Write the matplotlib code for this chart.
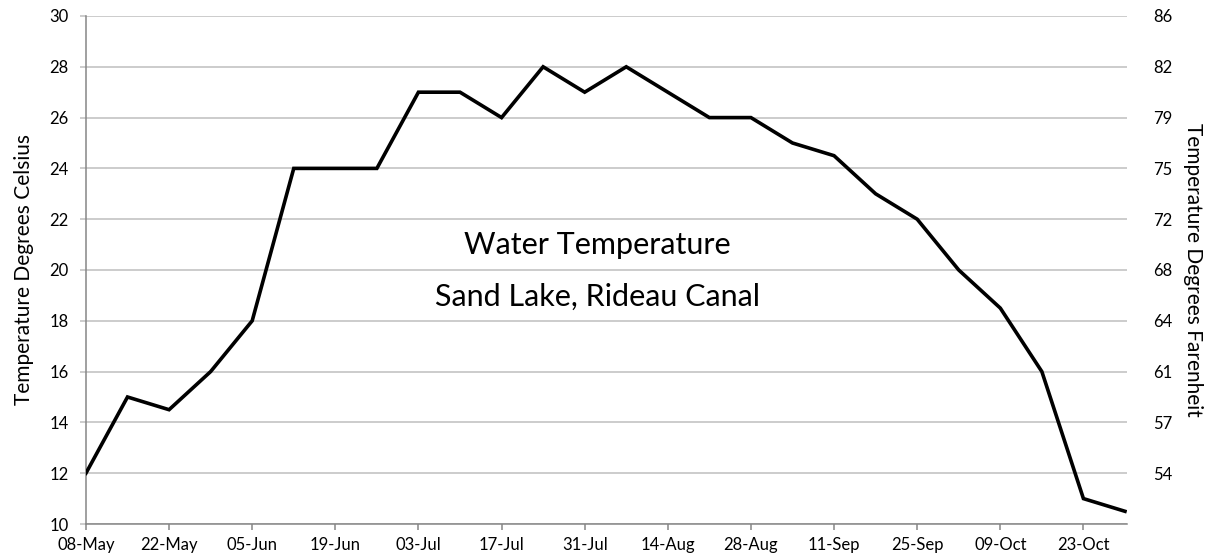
import pandas as pd
import matplotlib.pyplot as plt
import matplotlib.dates as mdates

plt.rcParams['font.family'] = ['Lato', 'DejaVu Sans']

# weekly readings, Sand Lake
dates = pd.date_range("2013-05-08", periods=26, freq="7D")
temp_c = [12, 15, 14.5, 16, 18, 24, 24, 24, 27, 27, 26, 28, 27,
          28, 27, 26, 26, 25, 24.5, 23, 22, 20, 18.5, 16, 11, 10.5]

celsius_ticks = [10, 12, 14, 16, 18, 20, 22, 24, 26, 28, 30]
fahrenheit_ticks = [12, 14, 16, 18, 20, 22, 24, 26, 28, 30]
fahrenheit_labels = ["54", "57", "61", "64", "68", "72", "75", "79", "82", "86"]

grid_col = "#BFBFBF"
spine_col = "#868686"

fig = plt.figure(figsize=(12.19, 5.59), dpi=100)
ax = fig.add_axes([0.0705, 0.0626, 0.854, 0.9088])

ax.plot(dates, temp_c, color="black", lw=2.6, solid_joinstyle="miter", zorder=3)

ax.set_ylim(10, 30)
ax.set_yticks(celsius_ticks)
ax.set_xlim(dates[0], dates[-1] + pd.Timedelta(hours=8))
ax.set_xticks(dates[::2])
ax.xaxis.set_major_formatter(mdates.DateFormatter("%d-%b"))

ax.grid(axis="y", color=grid_col, lw=1.1)
ax.set_axisbelow(True)
for side in ["top", "right"]:
    ax.spines[side].set_visible(False)
for side in ["left", "bottom"]:
    ax.spines[side].set_color(spine_col)
    ax.spines[side].set_linewidth(1.1)

ax.tick_params(axis="y", length=4.5, color=grid_col, width=1.1, pad=8, labelsize=12)
ax.tick_params(axis="x", length=4, color=spine_col, width=1.1, pad=5, labelsize=12)
ax.set_ylabel("Temperature Degrees Celsius", fontsize=15, labelpad=11)

ax2 = ax.twinx()
ax2.set_ylim(ax.get_ylim())
ax2.set_yticks(fahrenheit_ticks)
ax2.set_yticklabels(fahrenheit_labels)
ax2.tick_params(axis="y", length=0, pad=19, labelsize=12)
for side in ["top", "right", "left", "bottom"]:
    ax2.spines[side].set_visible(False)
ax2.set_ylabel("Temperature Degrees Farenheit", fontsize=15, rotation=270, labelpad=22)

ax.text(0.491, 0.549, "Water Temperature", transform=ax.transAxes,
        ha="center", va="center", fontsize=22)
ax.text(0.491, 0.447, "Sand Lake, Rideau Canal", transform=ax.transAxes,
        ha="center", va="center", fontsize=22)

fig.savefig("out.png", dpi=100)
